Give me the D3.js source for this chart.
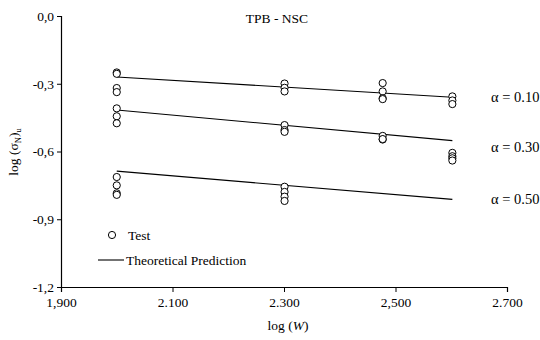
<!DOCTYPE html>
<html>
<head>
  <script src="https://d3js.org/d3.v7.min.js"></script>
  <style>
  body { margin: 0; background: #fff; }
  text { font-family: "Liberation Serif", "Times New Roman", serif; fill: #000; }
  </style>
</head>
<body>
  <div id="chart"></div>
  <script>
    // x positions: log(W) for W = 100, 200, 300, 400
    var xTicks = [1.9, 2.1, 2.3, 2.5, 2.7];
    var xTickLabels = ["1,900", "2.100", "2.300", "2,500", "2.700"];
    var yTicks = [0, -0.3, -0.6, -0.9, -1.2];
    var yTickLabels = ["0,0", "-0,3", "-0,6", "-0,9", "-1,2"];

    // test points, [logW, log sigma]
    var test10 = [[2.0, -0.250], [2.0, -0.256], [2.0, -0.319], [2.0, -0.337],
                  [2.301, -0.299], [2.301, -0.318], [2.301, -0.334],
                  [2.477, -0.297], [2.477, -0.334], [2.477, -0.364], [2.477, -0.368],
                  [2.602, -0.356], [2.602, -0.374], [2.602, -0.390]];
    var test30 = [[2.0, -0.409], [2.0, -0.444], [2.0, -0.475],
                  [2.301, -0.483], [2.301, -0.505], [2.301, -0.513],
                  [2.477, -0.531], [2.477, -0.547], [2.477, -0.545],
                  [2.602, -0.606], [2.602, -0.621], [2.602, -0.630], [2.602, -0.640]];
    var test50 = [[2.0, -0.713], [2.0, -0.750], [2.0, -0.785], [2.0, -0.792],
                  [2.301, -0.756], [2.301, -0.779], [2.301, -0.800], [2.301, -0.819]];

    // theoretical prediction lines (start, end)
    var pred10 = [[2.0, -0.270], [2.602, -0.360]];
    var pred30 = [[2.0, -0.416], [2.602, -0.552]];
    var pred50 = [[2.0, -0.687], [2.602, -0.812]];
    var alphaLabels = ["\u03b1 = 0.10", "\u03b1 = 0.30", "\u03b1 = 0.50"];
    var alphaLabelY = [-0.36, -0.58, -0.81];

    var width = 540, height = 340;
    var svg = d3.select("#chart").append("svg")
      .attr("width", width)
      .attr("height", height);

    var x = d3.scaleLinear().domain([1.9, 2.7]).range([61, 507]);
    var y = d3.scaleLinear().domain([-1.2, 0]).range([287, 16]);

    // axes
    var xAxis = d3.axisBottom(x).tickValues(xTicks).tickSize(5)
      .tickFormat(function(d, i) { return xTickLabels[i]; });
    var yAxis = d3.axisLeft(y).tickValues(yTicks).tickSize(4)
      .tickFormat(function(d, i) { return yTickLabels[i]; });

    var gx = svg.append("g").attr("transform", "translate(0," + y(-1.2) + ")").call(xAxis);
    var gy = svg.append("g").attr("transform", "translate(" + x(1.9) + ",0)").call(yAxis);
    [gx, gy].forEach(function(g) {
      g.attr("font-family", null);
      g.select(".domain").attr("stroke", "#000").attr("stroke-width", 1.2);
      g.selectAll(".tick line").attr("stroke", "#000");
      g.selectAll("text").style("font-family", "'Liberation Serif', serif")
        .style("font-size", "13.5px").attr("fill", "#000");
    });
    gx.selectAll("text").attr("dy", "1.0em").attr("y", 6);
    gy.selectAll("text").attr("x", -7);

    // prediction lines
    var line = d3.line().x(function(d) { return x(d[0]); }).y(function(d) { return y(d[1]); });
    [pred10, pred30, pred50].forEach(function(p) {
      svg.append("path").attr("d", line(p))
        .attr("fill", "none").attr("stroke", "#000").attr("stroke-width", 1.1);
    });

    // test circles
    [test10, test30, test50].forEach(function(t) {
      svg.selectAll(null).data(t).enter().append("circle")
        .attr("cx", function(d) { return x(d[0]); })
        .attr("cy", function(d) { return y(d[1]); })
        .attr("r", 3.6)
        .attr("fill", "#fff")
        .attr("stroke", "#000")
        .attr("stroke-width", 1);
    });

    // alpha labels
    svg.selectAll(null).data(alphaLabels).enter().append("text")
      .attr("x", 491)
      .attr("y", function(d, i) { return y(alphaLabelY[i]); })
      .attr("dy", "0.35em")
      .style("font-size", "14.5px")
      .text(function(d) { return d; });

    // title
    svg.append("text").attr("x", 277).attr("y", 23)
      .attr("text-anchor", "middle").style("font-size", "13.5px")
      .text("TPB - NSC");

    // axis titles
    var xt = svg.append("text").attr("x", 288).attr("y", 330)
      .attr("text-anchor", "middle").style("font-size", "13.5px");
    xt.append("tspan").text("log (");
    xt.append("tspan").style("font-style", "italic").text("W");
    xt.append("tspan").text(")");

    var yt = svg.append("text")
      .attr("transform", "translate(18,152) rotate(-90)")
      .attr("text-anchor", "middle").style("font-size", "13.5px");
    yt.append("tspan").text("log (\u03c3");
    yt.append("tspan").attr("dy", 3).style("font-size", "8.5px").text("N");
    yt.append("tspan").attr("dy", -3).text(")");
    yt.append("tspan").attr("dy", 3).style("font-size", "8.5px").text("u");

    // legend
    svg.append("circle").attr("cx", 112).attr("cy", 235).attr("r", 3.6)
      .attr("fill", "#fff").attr("stroke", "#000");
    svg.append("text").attr("x", 128).attr("y", 240).style("font-size", "13.5px").text("Test");
    svg.append("line").attr("x1", 98).attr("x2", 124).attr("y1", 260).attr("y2", 260)
      .attr("stroke", "#000").attr("stroke-width", 1.1);
    svg.append("text").attr("x", 126).attr("y", 264.5).style("font-size", "13.5px").text("Theoretical Prediction");
  </script>
</body>
</html>
